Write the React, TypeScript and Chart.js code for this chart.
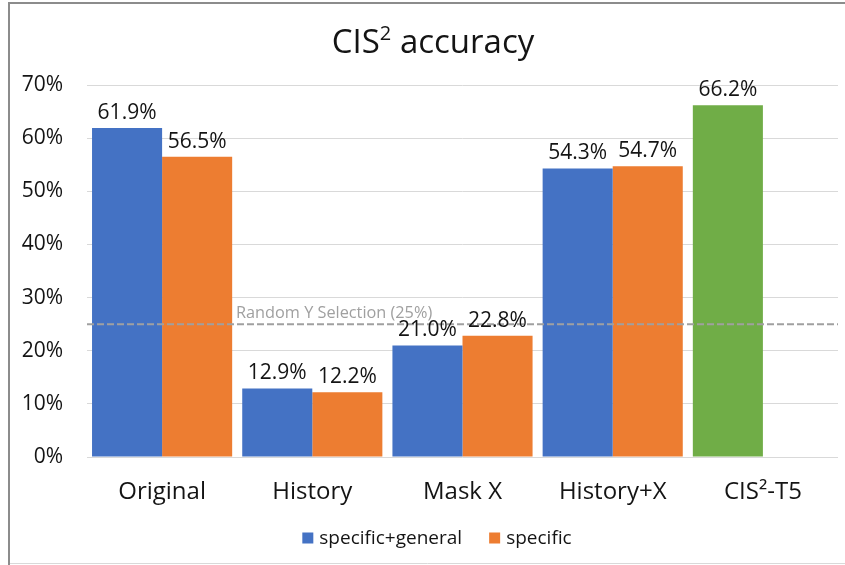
import React, { useEffect, useRef } from "react";
import { Chart, registerables } from "chart.js";

Chart.register(...registerables);

// ---- data ----
const categories = ["Original", "History", "Mask X", "History+X", "CIS²-T5"];
const seriesNames = ["specific+general", "specific"];
const specificGeneral = [61.9, 12.9, 21.0, 54.3, 66.2];
const specific: (number | null)[] = [56.5, 12.2, 22.8, 54.7, null];
const yMax = 70;
const yStep = 10;
const randomValue = 25;
const randomLabel = "Random Y Selection (25%)";
const titleMain = "CIS";
const titleSup = "2";
const titleRest = " accuracy";

// ---- styles ----
const BLUE = "#4472C4";
const ORANGE = "#ED7D31";
const GREEN = "#70AD47";
const sgColors = [BLUE, BLUE, BLUE, BLUE, GREEN];
const FONT = "'Open Sans', 'Noto Sans', sans-serif";
const TEXT = "#141414";

const overlayPlugin = {
  id: "overlay",
  beforeDraw(chart: any) {
    const { ctx, width, height } = chart;
    ctx.save();
    ctx.fillStyle = "#ffffff";
    ctx.fillRect(0, 0, width, height);
    ctx.restore();
  },
  afterDatasetsDraw(chart: any) {
    const { ctx, chartArea } = chart;
    const yScale = chart.scales.y;
    ctx.save();
    // dashed reference line
    const yr = yScale.getPixelForValue(randomValue);
    ctx.strokeStyle = "#A0A0A0";
    ctx.lineWidth = 2;
    ctx.setLineDash([7, 3]);
    ctx.beginPath();
    ctx.moveTo(chartArea.left, yr);
    ctx.lineTo(chartArea.right, yr);
    ctx.stroke();
    ctx.setLineDash([]);
    ctx.fillStyle = "#A0A0A0";
    ctx.font = `16.3px ${FONT}`;
    ctx.textAlign = "left";
    ctx.textBaseline = "alphabetic";
    ctx.fillText(randomLabel, 236, yr - 6);

    // data labels
    ctx.fillStyle = TEXT;
    ctx.font = `21px ${FONT}`;
    ctx.textAlign = "center";
    chart.data.datasets.forEach((ds: any, i: number) => {
      const meta = chart.getDatasetMeta(i);
      meta.data.forEach((bar: any, j: number) => {
        const v = ds.data[j];
        if (v === null || v === undefined) return;
        ctx.fillText(v.toFixed(1) + "%", bar.x, bar.y - 9);
      });
    });
    ctx.restore();
  },
  afterDraw(chart: any) {
    const { ctx } = chart;
    ctx.save();
    // title with superscript
    ctx.fillStyle = TEXT;
    ctx.textBaseline = "alphabetic";
    ctx.textAlign = "left";
    const big = `33px ${FONT}`;
    const small = `20px ${FONT}`;
    ctx.font = big;
    const w1 = ctx.measureText(titleMain).width;
    const w3 = ctx.measureText(titleRest).width;
    ctx.font = small;
    const w2 = ctx.measureText(titleSup).width;
    const total = w1 + w2 + w3;
    let x = 433 - total / 2;
    const base = 53;
    ctx.font = big;
    ctx.fillText(titleMain, x, base);
    x += w1;
    ctx.font = small;
    ctx.fillText(titleSup, x, base - 13);
    x += w2;
    ctx.font = big;
    ctx.fillText(titleRest, x, base);

    // legend
    ctx.font = `19px ${FONT}`;
    ctx.textBaseline = "middle";
    const colors = [BLUE, ORANGE];
    const sq = 11;
    const gapText = 6;
    const gapItem = 27;
    const widths = seriesNames.map((n) => ctx.measureText(n).width);
    const legW = widths.reduce((a, w) => a + sq + gapText + w, 0) + gapItem * (seriesNames.length - 1);
    let lx = 437 - legW / 2;
    const ly = 538;
    seriesNames.forEach((n, i) => {
      ctx.fillStyle = colors[i];
      ctx.fillRect(lx, ly - sq / 2, sq, sq);
      lx += sq + gapText;
      ctx.fillStyle = TEXT;
      ctx.fillText(n, lx, ly + 1);
      lx += widths[i] + gapItem;
    });

    // outer frame
    ctx.strokeStyle = "#8C8C8C";
    ctx.lineWidth = 2;
    ctx.beginPath();
    ctx.moveTo(9, 565);
    ctx.lineTo(9, 3);
    ctx.lineTo(845, 3);
    ctx.stroke();
    ctx.strokeStyle = "#D9D9D9";
    ctx.lineWidth = 1;
    ctx.beginPath();
    ctx.moveTo(10, 563.5);
    ctx.lineTo(845, 563.5);
    ctx.stroke();
    ctx.restore();
  },
};

export default function App() {
  const ref = useRef<HTMLCanvasElement | null>(null);
  useEffect(() => {
    if (!ref.current) return;
    const chart = new Chart(ref.current, {
      type: "bar",
      data: {
        labels: categories,
        datasets: [
          {
            label: seriesNames[0],
            data: specificGeneral,
            backgroundColor: sgColors,
            borderWidth: 0,
            categoryPercentage: 0.933,
            barPercentage: 1.0,
          },
          {
            label: seriesNames[1],
            data: specific,
            backgroundColor: ORANGE,
            borderWidth: 0,
            categoryPercentage: 0.933,
            barPercentage: 1.0,
          },
        ],
      },
      options: {
        responsive: false,
        animation: false,
        layout: { padding: { top: 85, left: 0, right: 7, bottom: 0 } },
        plugins: {
          legend: { display: false },
          title: { display: false },
          tooltip: { enabled: false },
        },
        scales: {
          x: {
            grid: { display: false, drawTicks: false },
            border: { display: false },
            ticks: {
              color: TEXT,
              font: { family: FONT, size: 24 },
              padding: 21,
              maxRotation: 0,
              autoSkip: false,
            },
            afterFit(scale: any) {
              scale.height = 108;
            },
          },
          y: {
            min: 0,
            max: yMax,
            grid: { color: "#D9D9D9", lineWidth: 1, drawTicks: false },
            border: { display: false },
            ticks: {
              stepSize: yStep,
              color: TEXT,
              font: { family: FONT, size: 21 },
              padding: 24,
              callback: (v: any) => v + "%",
            },
            afterFit(scale: any) {
              scale.width = 87;
            },
          },
        },
      },
      plugins: [overlayPlugin],
    });
    return () => chart.destroy();
  }, []);
  return (
    <div style={{ position: "absolute", left: 0, top: 0, width: 845, height: 565 }}>
      <canvas ref={ref} width={845} height={565} style={{ display: "block" }} />
    </div>
  );
}
